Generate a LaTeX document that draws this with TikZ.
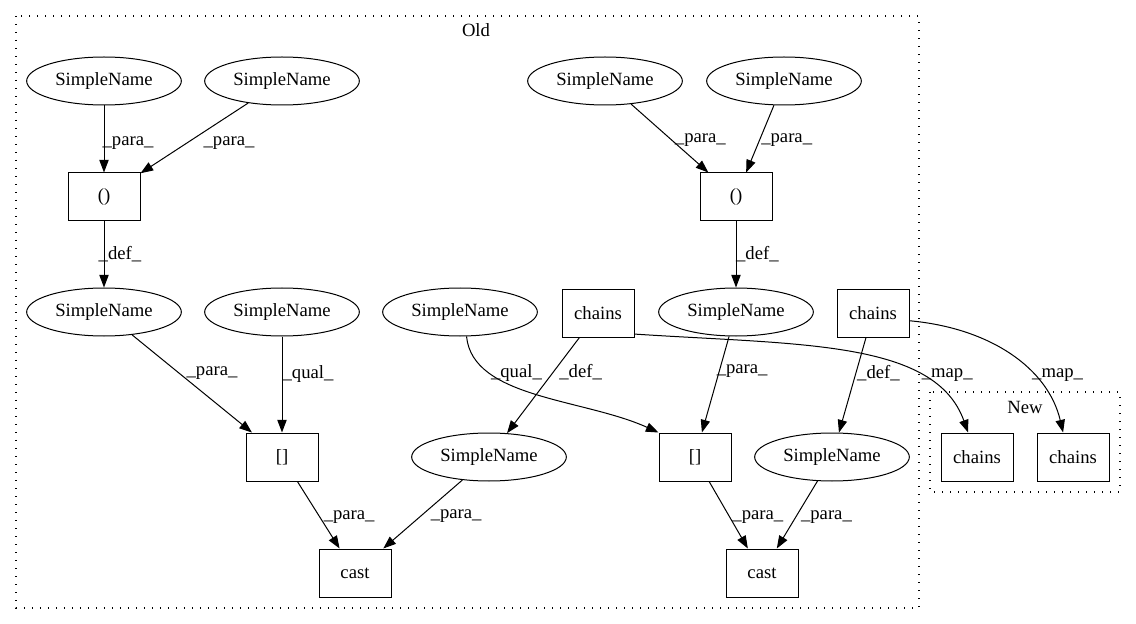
\documentclass[tikz,border=0pt]{standalone}
\usepackage{fontspec}
\setmainfont{Liberation Serif}
\usepackage{tikz}
\usetikzlibrary{shapes.geometric, arrows.meta}
\tikzstyle{arrow} = [->,>={Triangle[length=9.5pt,width=7pt]}, line width=0.75pt]

\begin{document}
\begin{tikzpicture}[x=0.75pt, y=-0.75pt,
font=\fontsize{14}{16}\selectfont,
namenode/.style={ellipse, draw, line width=0.75pt, minimum width=116pt, minimum height=36pt, inner sep=0pt},
boxnode/.style={rectangle, draw, line width=0.75pt, minimum width=54pt, minimum height=36pt, inner sep=0pt},
cluster/.style={draw, line width=0.9pt, dash pattern=on 1.1pt off 4.9pt},
lab/.style={midway, inner sep=0pt},]
\useasboundingbox (0,0) rectangle (1136,624);

%Clusters
\draw[cluster] (16,16) rectangle (919,608);
\node (oldlabel) at (476,30) {Old};
\draw[cluster] (930,392) rectangle (1120,492);
\node (newlabel) at (1025,407) {New};

%Nodes
\node[namenode] (nameA)  at (104,81)  {SimpleName};
\node[namenode] (nameB)  at (282,81)  {SimpleName};
\node[namenode] (nameC)  at (605,81)  {SimpleName};
\node[namenode] (nameD)  at (784,81)  {SimpleName};
\node[boxnode]  (callL)  at (104,197) {()};
\node[boxnode]  (callR)  at (736,197) {()};
\node[namenode] (defL)   at (104,312) {SimpleName};
\node[namenode] (qualL)  at (282,312) {SimpleName};
\node[namenode] (qualM)  at (460,312) {SimpleName};
\node[boxnode]  (chainsM) at (598,313) {chains};
\node[namenode] (defR)   at (736,312) {SimpleName};
\node[boxnode]  (chainsR) at (873,313) {chains};
\node[boxnode]  (indexL) at (282,457) {[]};
\node[namenode] (nameM)  at (489,457) {SimpleName};
\node[boxnode]  (indexR) at (695,457) {[]};
\node[namenode] (nameR)  at (832,457) {SimpleName};
\node[boxnode]  (castL)  at (355,573) {cast};
\node[boxnode]  (castR)  at (762,573) {cast};
\node[boxnode]  (newA)   at (977,457) {chains};
\node[boxnode]  (newB)   at (1073,457) {chains};

%Lines
\path[arrow] (nameA) edge node[lab, xshift=18pt, yshift=-3pt] {\_para\_} (callL);
\path[arrow] (nameB) edge node[lab, xshift=26pt, yshift=-4pt] {\_para\_} (callL);
\path[arrow] (callL) edge node[lab, xshift=12pt] {\_def\_} (defL);
\path[arrow] (nameC) edge node[lab, xshift=23pt, yshift=-1pt] {\_para\_} (callR);
\path[arrow] (nameD) edge node[lab, xshift=20pt, yshift=-1pt] {\_para\_} (callR);
\path[arrow] (callR) edge node[lab, xshift=16pt] {\_def\_} (defR);

\path[arrow] (defL) edge node[lab, xshift=15pt, yshift=8pt] {\_para\_} (indexL);
\path[arrow] (qualL) edge node[lab, xshift=19.5pt, yshift=8pt] {\_qual\_} (indexL);
\draw[arrow] (qualM.-75) .. controls +(6,62) and +(-75,-34) .. node[pos=0.3, inner sep=0pt, xshift=15pt, yshift=4pt] {\_qual\_} (indexR.north west);
\path[arrow] (chainsM) edge node[lab, xshift=28pt, yshift=10pt] {\_def\_} (nameM);
\path[arrow] (defR) edge node[lab, xshift=20pt, yshift=10pt] {\_para\_} (indexR);
\path[arrow] (chainsR) edge node[lab, xshift=19.5pt, yshift=9pt] {\_def\_} (nameR);
\draw[arrow] (chainsM.-30) .. controls (800,345) and (935,340) .. node[pos=0.72, inner sep=0pt, xshift=22pt] {\_map\_} (newA.110);
\draw[arrow] (chainsR.-12) .. controls (990,328) and (1048,368) .. node[pos=0.66, inner sep=0pt, xshift=18pt] {\_map\_} (newB.112);

\path[arrow] (indexL) edge node[lab, xshift=23pt, yshift=-1.5pt] {\_para\_} (castL);
\path[arrow] (nameM) edge node[lab, xshift=25pt, yshift=-1.5pt] {\_para\_} (castL);
\path[arrow] (indexR) edge node[lab, xshift=22pt, yshift=-1.5pt] {\_para\_} (castR);
\path[arrow] (nameR) edge node[lab, xshift=22pt, yshift=-1.5pt] {\_para\_} (castR);
\end{tikzpicture}
\end{document}
